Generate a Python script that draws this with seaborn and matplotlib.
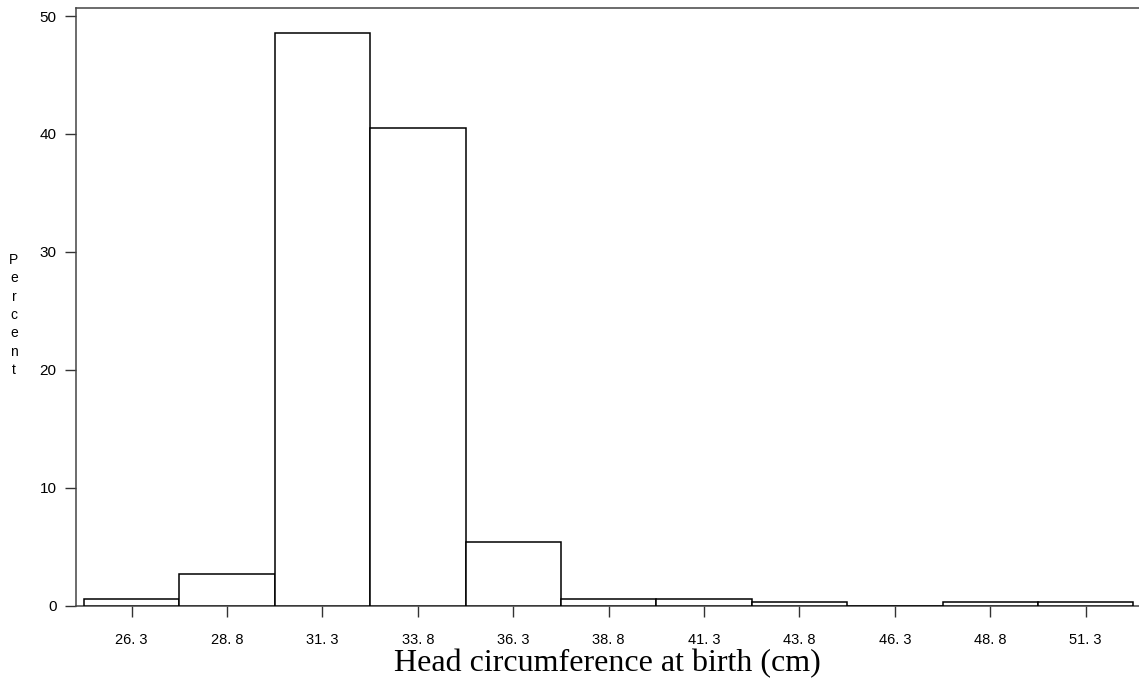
import numpy as np
import pandas as pd
import seaborn as sns
import matplotlib.pyplot as plt

# bin midpoints and percent of births in each bin
midpoints = ['26. 3', '28. 8', '31. 3', '33. 8', '36. 3', '38. 8', '41. 3', '43. 8', '46. 3', '48. 8', '51. 3']
percent = [0.53, 2.67, 48.6, 40.5, 5.39, 0.53, 0.53, 0.27, 0.0, 0.27, 0.27]
yticks = [0, 10, 20, 30, 40, 50]

df = pd.DataFrame({'mid': midpoints, 'pct': percent})

sns.set_style('white')
plt.rcParams['font.family'] = ['Liberation Sans', 'DejaVu Sans']
plt.rcParams['text.color'] = 'black'
plt.rcParams['xtick.color'] = 'black'
plt.rcParams['ytick.color'] = 'black'
plt.rcParams['axes.labelcolor'] = 'black'

fig = plt.figure(figsize=(11.39, 6.89), dpi=100)
ax = fig.add_axes([76 / 1139, (689 - 605.5) / 689, 1 - 76 / 1139, (605.5 - 8) / 689])

sns.barplot(data=df, x='mid', y='pct', order=midpoints, color='white',
            edgecolor='black', linewidth=1.1, width=1.0, ax=ax, zorder=3)

ax.set_xlim(-0.584, 10.56)
ax.set_ylim(0, 50.68)
ax.set_yticks(yticks)
ax.set_yticklabels([str(v) for v in yticks], fontsize=11)
ax.tick_params(axis='x', direction='out', length=8, width=1, color='#333333', pad=12, labelsize=10.5, bottom=True)
ax.tick_params(axis='y', direction='out', length=8, width=1, color='#333333', pad=6, left=True)

for side in ['left', 'top', 'bottom']:
    ax.spines[side].set_visible(True)
    ax.spines[side].set_color('#444444')
    ax.spines[side].set_linewidth(1.1)
ax.spines['right'].set_visible(False)

ax.set_ylabel('')
ax.set_xlabel('Head circumference at birth (cm)', fontsize=23,
              family=['Liberation Serif', 'DejaVu Serif'], labelpad=1)

fig.text(14 / 1139, 1 - 315 / 689, 'P\ne\nr\nc\ne\nn\nt', fontsize=10,
         ha='center', va='center', linespacing=1.4)

fig.savefig('out.png', dpi=100)
